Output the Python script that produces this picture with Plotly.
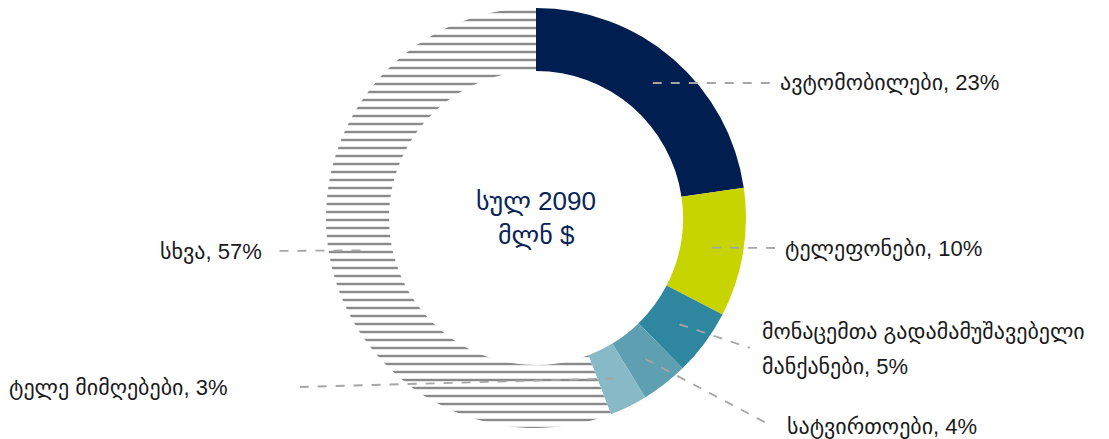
import math
import plotly.graph_objects as go

# ---- data ----
categories = ["ავტომობილები", "ტელეფონები", "მონაცემთა გადამამუშავებელი<br>მანქანები",
              "სატვირთოები", "ტელე მიმღებები", "სხვა"]
shares = [22.7, 9.9, 5.1, 3.6, 2.9, 55.8]          # slice sizes
pct_labels = [23, 10, 5, 4, 3, 57]                  # percentages printed in the labels
center_lines = ["სულ 2090", "მლნ $"]

# ---- style / layout ----
W, H = 1109, 439
OFF = 8  # page offset of the plot inside the browser window
colors = ["#001E50", "#C8D400", "#2E879E", "#5E9FB1", "#88B9C7", "#FFFFFF"]
shapes_pat = ["", "", "", "", "", "-"]
cx, cy, R_out = 536, 218, 210
hole = 0.70
R_mid = R_out * (1 + hole) / 2
FONT = "Liberation Sans, Arial, DejaVu Sans, sans-serif"
TXT = "#1a1a1a"
DASH = "#a6a6a6"
LBL_SIZE = 22
CTR_SIZE = 26
LINE_GAP = 35

# label anchor positions (pixels): end of leader line, text x, text y (first line), side
label_pos = [
    (770, 83, 778, 83, "left"),
    (775, 248, 783, 248, "left"),
    (750, 348, 760, 331, "left"),
    (772, 426, 785, 426, "left"),
    (300, 387, 229, 387, "right"),
    (272, 251, 264, 251, "right"),
]

def px(x):
    return (x - OFF) / W

def py(y):
    return 1 - (y - OFF) / H

def clamp(v):
    return min(1.0, max(0.0, v))

fig = go.Figure()
fig.add_trace(go.Pie(
    values=shares,
    labels=[c.replace("<br>", " ") for c in categories],
    sort=False,
    direction="clockwise",
    rotation=0,
    hole=hole,
    textinfo="none",
    hoverinfo="skip",
    showlegend=False,
    marker=dict(
        colors=colors,
        line=dict(width=0),
        pattern=dict(shape=shapes_pat, fgcolor="#8a8a8a", bgcolor="#FFFFFF",
                     size=8, solidity=0.3),
    ),
    domain=dict(x=[clamp(px(cx - R_out)), clamp(px(cx + R_out))],
                y=[clamp(py(cy + R_out)), clamp(py(cy - R_out))]),
))

shapes = []
annotations = []
total = sum(shares)
cum = 0.0
for i, v in enumerate(shares):
    mid = (cum + v / 2) / total * 2 * math.pi
    cum += v
    sx = cx + R_mid * math.sin(mid)
    sy = cy - R_mid * math.cos(mid)
    ex, ey, tx, ty, side = label_pos[i]
    shapes.append(dict(type="line", xref="paper", yref="paper",
                       x0=px(sx), y0=py(sy), x1=px(ex), y1=py(ey),
                       line=dict(color=DASH, width=1.8, dash="dash")))
    lines = f"{categories[i]}, {pct_labels[i]}%".split("<br>")
    for k, ln in enumerate(lines):
        annotations.append(dict(
            x=px(tx), y=py(ty + k * LINE_GAP), xref="paper", yref="paper",
            xanchor="left" if side == "left" else "right",
            yanchor="middle", showarrow=False,
            text=ln, font=dict(family=FONT, size=LBL_SIZE, color=TXT),
        ))

for k, ln in enumerate(center_lines):
    annotations.append(dict(
        x=px(cx), y=py(cy - 17 + k * 34), xref="paper", yref="paper",
        xanchor="center", yanchor="middle", showarrow=False,
        text=ln, font=dict(family=FONT, size=CTR_SIZE, color="#0A2458"),
    ))

fig.update_layout(
    width=W, height=H,
    margin=dict(l=0, r=0, t=0, b=0),
    paper_bgcolor="white", plot_bgcolor="white",
    shapes=shapes, annotations=annotations,
)

fig.write_html("out.html")
